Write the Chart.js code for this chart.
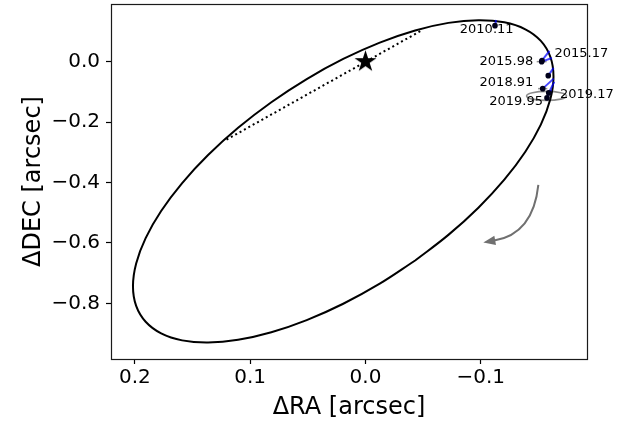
<!DOCTYPE html>
<html><head><meta charset="utf-8">
<script src="https://cdn.jsdelivr.net/npm/chart.js@4/dist/chart.umd.min.js"></script>
<style>html,body{margin:0;padding:0;background:#fff}#wrap{width:629px;height:423px;position:relative}</style>
</head><body><div id="wrap"><canvas id="c" width="629" height="423"></canvas></div>
<script>
// ---- data (arcsec) ----
const orbitRA  = [-0.04307,-0.07188,-0.09792,-0.12039,-0.13862,-0.15206,-0.16028,-0.16305,-0.16028,-0.15206,-0.13862,-0.12039,-0.09792,-0.07188,-0.04307,-0.01237, 0.01930, 0.05096, 0.08166, 0.11047, 0.13651, 0.15899, 0.17722, 0.19065, 0.19888, 0.20165, 0.19888, 0.19065, 0.17722, 0.15899, 0.13651, 0.11047, 0.08166, 0.05096, 0.01930,-0.01237,-0.04307];
const orbitDEC = [-0.65785,-0.57318,-0.48313,-0.39043,-0.29791,-0.20836,-0.12452,-0.04893, 0.01612, 0.06864, 0.10705, 0.13018, 0.13730, 0.12823, 0.10322, 0.06305, 0.00893,-0.05750,-0.13422,-0.21888,-0.30894,-0.40163,-0.49416,-0.58370,-0.66755,-0.74314,-0.80819,-0.86071,-0.89912,-0.92224,-0.92937,-0.92029,-0.89529,-0.85512,-0.80099,-0.73457,-0.65785];
const nodeRA  = [0.1205, -0.0490];
const nodeDEC = [-0.2580, 0.1040];
const starRA = [0.0], starDEC = [0.0];
const epochs  = ['2010.11','2015.17','2015.98','','2018.91','2019.17','2019.95'];
const obsRA   = [-0.1123,-0.1531,-0.1528,-0.1585,-0.1537,-0.1589,-0.1574];
const obsDEC  = [ 0.1190, 0.0040, 0.0000,-0.0463,-0.0893,-0.1035,-0.1200];
const predRA  = [-0.1132,-0.1596,-0.1617,-0.1631,-0.1632,-0.1637,-0.1609];
const predDEC = [ 0.1378, 0.0354, 0.0122,-0.0208,-0.0562,-0.0671,-0.0936];
const errRA   = [0, 0, 0.0043, 0, 0.0040, 0, 0];
const errEllRA = [-0.1570], errEllDEC = [-0.1134], errEllA = [0.0173], errEllB = [0.0149];
const arrowRA  = [-0.1499,-0.1454,-0.1022];
const arrowDEC = [-0.4076,-0.5700,-0.5980];
const xTicks = [0.2, 0.1, 0.0, -0.1];
const yTicks = [0.0, -0.2, -0.4, -0.6, -0.8];

// ---- styles ----
const FONT = "'DejaVu Sans', sans-serif";
const labelStyle = {
  '2010.11': {dx:-8.3, dy:4.3, align:'center'},
  '2015.17': {dx:12.5, dy:-6.5, align:'left'},
  '2015.98': {dx:-8.4, dy:-0.4, align:'right'},
  '2018.91': {dx:-9.4, dy:-6.4, align:'right'},
  '2019.17': {dx:11.3, dy:1.5, align:'left'},
  '2019.95': {dx:-4.0, dy:4.0, align:'right'}
};

function makeStar(r){
  const s = Math.ceil(2*r+2);
  const c = document.createElement('canvas'); c.width = s; c.height = s;
  const g = c.getContext('2d'); g.translate(s/2, s/2);
  g.beginPath();
  for (let k=0;k<10;k++){ const rr = k%2 ? r*0.382 : r; const a = -Math.PI/2 + k*Math.PI/5; g.lineTo(rr*Math.cos(a), rr*Math.sin(a)); }
  g.closePath(); g.fillStyle = '#000'; g.fill();
  return c;
}
const fmt = v => (v < -1e-9 ? '\u2212' : '') + Math.abs(v).toFixed(1);
const pts = (xs, ys) => xs.map((x,i)=>({x, y: ys[i]}));

const datasets = [];
datasets.push({data: pts(obsRA, obsDEC), pointRadius: 2.8, pointBackgroundColor:'#00001a', pointBorderWidth:0, showLine:false, order:0});
datasets.push({data: pts(starRA, starDEC), pointStyle: makeStar(11.5), pointRadius: 12, showLine:false, order:1});
obsRA.forEach((x,i)=>{
  datasets.push({data: [{x, y: obsDEC[i]}, {x: predRA[i], y: predDEC[i]}], showLine:true, borderColor:'rgba(0,0,255,0.72)', borderWidth:2, pointRadius:0, order:2});
});
datasets.push({data: pts(nodeRA, nodeDEC), showLine:true, borderColor:'#000', borderWidth:2, borderDash:[2,3], borderCapStyle:'butt', pointRadius:0, order:3});
datasets.push({data: pts(orbitRA, orbitDEC), showLine:true, borderColor:'#000', borderWidth:2, pointRadius:0, tension:0.4, order:4});

const extras = {
  id:'extras',
  beforeDatasetsDraw(chart){
    const {ctx, scales:{x, y}} = chart;
    ctx.save();
    ctx.strokeStyle = '#8c8c8c'; ctx.lineWidth = 1.6;
    errEllRA.forEach((ra,i)=>{
      const cx = x.getPixelForValue(ra), cy = y.getPixelForValue(errEllDEC[i]);
      const rx = Math.abs(x.getPixelForValue(ra+errEllA[i]) - cx);
      const ry = Math.abs(y.getPixelForValue(errEllDEC[i]+errEllB[i]) - cy);
      ctx.beginPath(); ctx.ellipse(cx, cy, rx, ry, 0, 0, Math.PI*2); ctx.stroke();
    });
    ctx.strokeStyle = '#909090'; ctx.lineWidth = 1.5;
    errRA.forEach((e,i)=>{
      if (!e) return;
      const py = y.getPixelForValue(obsDEC[i]);
      ctx.beginPath(); ctx.moveTo(x.getPixelForValue(obsRA[i]-e), py); ctx.lineTo(x.getPixelForValue(obsRA[i]+e), py); ctx.stroke();
    });
    ctx.restore();
  },
  afterDatasetsDraw(chart){
    const {ctx, scales:{x, y}, chartArea:a} = chart;
    ctx.save();
    const P = arrowRA.map((r,i)=>[x.getPixelForValue(r), y.getPixelForValue(arrowDEC[i])]);
    let dx = P[2][0]-P[1][0], dy = P[2][1]-P[1][1]; const L = Math.hypot(dx,dy); dx/=L; dy/=L;
    const hl = 12, hw = 4.8;
    const bx = P[2][0]-dx*hl, by = P[2][1]-dy*hl;
    ctx.strokeStyle = '#707070'; ctx.fillStyle = '#707070'; ctx.lineWidth = 2;
    ctx.beginPath(); ctx.moveTo(P[0][0],P[0][1]); ctx.quadraticCurveTo(P[1][0],P[1][1], bx+dx*1, by+dy*1); ctx.stroke();
    ctx.beginPath(); ctx.moveTo(P[2][0],P[2][1]); ctx.lineTo(bx - dy*hw, by + dx*hw); ctx.lineTo(bx + dy*hw, by - dx*hw); ctx.closePath(); ctx.fill();
    ctx.fillStyle = '#000'; ctx.font = "13px " + FONT; ctx.textBaseline = 'middle';
    epochs.forEach((t,i)=>{
      if (!t) return; const s = labelStyle[t];
      ctx.textAlign = s.align;
      ctx.fillText(t, x.getPixelForValue(obsRA[i]) + s.dx, y.getPixelForValue(obsDEC[i]) + s.dy);
    });
    ctx.strokeStyle = '#1a1a1a'; ctx.lineWidth = 1.2;
    ctx.strokeRect(Math.round(a.left)+0.5, Math.round(a.top)+0.5, Math.round(a.right)-Math.round(a.left), Math.round(a.bottom)-Math.round(a.top));
    ctx.restore();
  }
};

new Chart(document.getElementById('c'), {
  type:'scatter',
  data:{datasets},
  options:{
    responsive:false, animation:false, devicePixelRatio:1,
    layout:{autoPadding:false, padding:{left:0, top:4, right:42, bottom:0}},
    plugins:{legend:{display:false}, tooltip:{enabled:false}},
    elements:{line:{capBezierPoints:false}},
    scales:{
      x:{type:'linear', reverse:true, min:-0.1921, max:0.2207, position:'bottom',
        afterBuildTicks: s => { s.ticks = xTicks.map(v=>({value:v})); },
        afterFit: s => { s.height = 64; s.paddingLeft = 0; s.paddingRight = 0; },
        ticks:{callback: v => fmt(v), font:{family:FONT, size:20}, color:'#000', padding:2, maxRotation:0, autoSkip:false},
        grid:{drawOnChartArea:false, drawTicks:true, tickLength:5, color:'#000', tickWidth:1.2},
        border:{display:false},
        title:{display:true, text:'\u0394RA [arcsec]', font:{family:FONT, size:24}, color:'#000', padding:{top:0, bottom:1}}
      },
      y:{type:'linear', min:-0.9838, max:0.1907, position:'left',
        afterBuildTicks: s => { s.ticks = yTicks.map(v=>({value:v})); },
        afterFit: s => { s.width = 111; s.paddingTop = 0; s.paddingBottom = 0; },
        ticks:{callback: v => fmt(v), font:{family:FONT, size:20}, color:'#000', padding:6, autoSkip:false},
        grid:{drawOnChartArea:false, drawTicks:true, tickLength:5, color:'#000', tickWidth:1.2},
        border:{display:false},
        title:{display:true, text:'\u0394DEC [arcsec]', font:{family:FONT, size:24}, color:'#000', padding:{top:19, bottom:0}}
      }
    }
  },
  plugins:[extras]
});
</script>
</body></html>
